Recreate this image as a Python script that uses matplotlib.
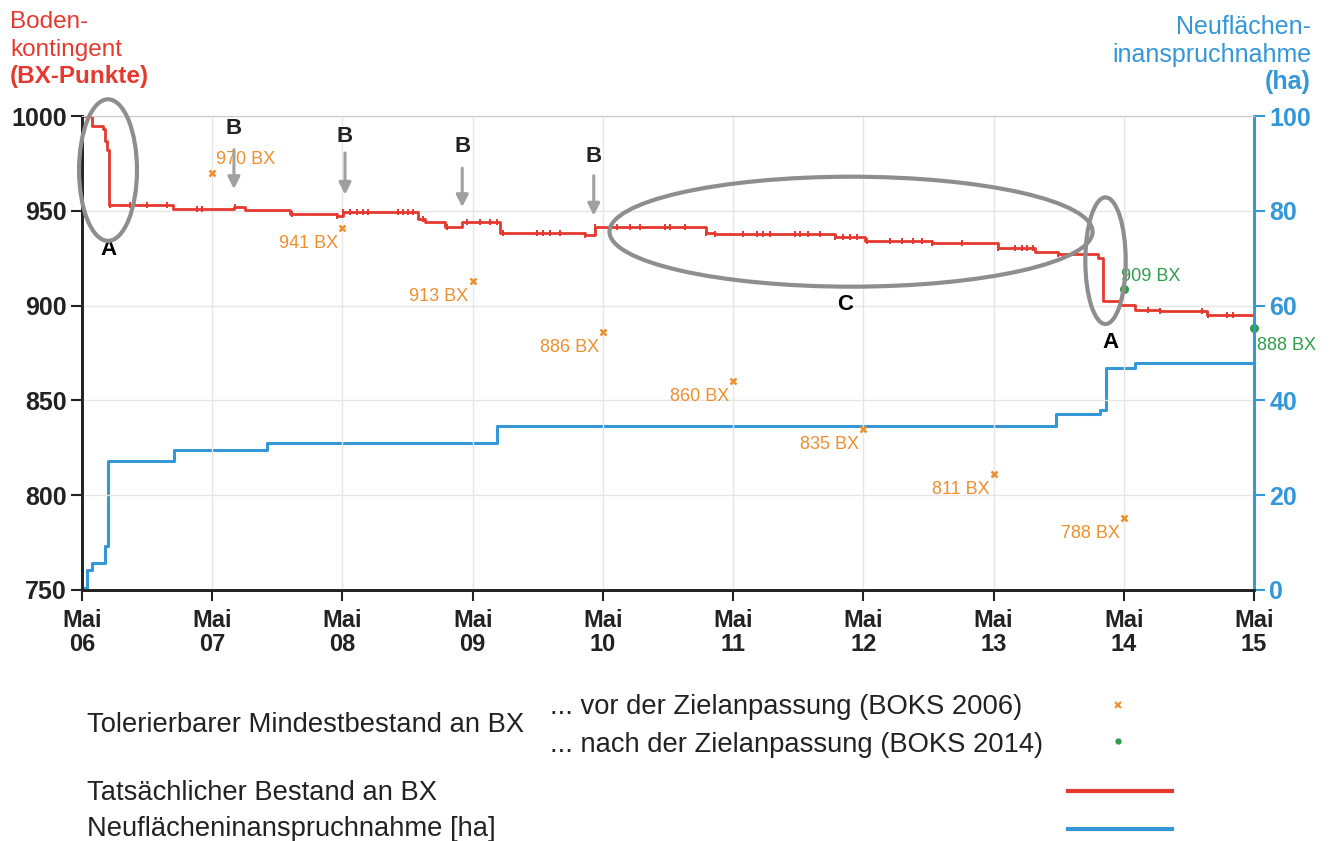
import numpy as np
import matplotlib
matplotlib.use("Agg")
import matplotlib.pyplot as plt
from matplotlib.patches import Ellipse
from matplotlib.lines import Line2D
from matplotlib import font_manager

names = {f.name for f in font_manager.fontManager.ttflist}
plt.rcParams['font.family'] = ['Liberation Sans', 'DejaVu Sans']
narrow = 'Liberation Sans Narrow' if 'Liberation Sans Narrow' in names else 'Liberation Sans'

# Zeit in Jahren ab Mai 2006
bx_t = [0.0, 0.077, 0.161, 0.177, 0.192, 0.207, 0.699, 1.167, 1.252, 1.598, 1.959, 2.005,
        2.581, 2.634, 2.788, 2.919, 3.210, 3.863, 3.940, 4.793, 4.862, 5.783, 6.014, 6.528,
        7.035, 7.320, 7.496, 7.803, 7.842, 7.972, 8.088, 8.280, 8.641, 9.0]
bx_val = [1000, 995, 993, 987, 982, 953, 951, 952, 950.5, 948.5, 947.5, 949.5,
          945.5, 944, 941.5, 944, 938.5, 937.5, 941.5, 938.5, 938, 936, 934, 933,
          930.5, 928.5, 927, 925, 902.5, 900.5, 897.5, 897, 895, 895]
# Meldungen (kleine Striche auf der roten Linie)
meldung_t = [0.215, 0.369, 0.499, 0.653, 0.883, 0.922, 1.175, 1.613, 1.959, 2.005, 2.058, 2.112,
             2.158, 2.196, 2.427, 2.465, 2.504, 2.542, 2.619, 2.803, 2.957, 3.057, 3.134, 3.187,
             3.233, 3.495, 3.541, 3.594, 3.671, 3.863, 3.940, 4.109, 4.209, 4.286, 4.478, 4.516,
             4.631, 4.793, 4.862, 5.077, 5.184, 5.230, 5.284, 5.476, 5.515, 5.576, 5.668, 5.783,
             5.845, 5.899, 5.952, 6.029, 6.206, 6.298, 6.382, 6.452, 6.528, 6.759, 7.035, 7.166,
             7.220, 7.258, 7.304, 7.496, 7.704, 7.972, 8.187, 8.280, 8.602, 8.648, 8.794, 8.840]

ha_t = [0.0, 0.04, 0.08, 0.18, 0.20, 0.71, 1.42, 3.19, 7.48, 7.82, 7.86, 8.09, 9.0]
ha_val = [0.4, 4.2, 5.7, 9.3, 27.2, 29.5, 31.0, 34.5, 37.1, 38.0, 46.8, 47.9, 47.9]

boks2006_t = [1, 2, 3, 4, 5, 6, 7, 8]
boks2006_val = [970, 941, 913, 886, 860, 835, 811, 788]
boks2014_t = [8, 9]
boks2014_val = [909, 888]

year_labels = ['Mai\n06', 'Mai\n07', 'Mai\n08', 'Mai\n09', 'Mai\n10',
               'Mai\n11', 'Mai\n12', 'Mai\n13', 'Mai\n14', 'Mai\n15']

RED = '#e5392f'
BLUE = '#3497d8'
ORANGE = '#ee8f2e'
GREEN = '#2e9e4a'
GRAY = '#8e8e8e'

fig = plt.figure(figsize=(13.33, 8.41), dpi=100)
ax = fig.add_axes([0.0615, 0.2985, 0.8792, 0.5635])
ax2 = ax.twinx()

# Flächen (blau) hinten
ax2.plot(ha_t, ha_val, drawstyle='steps-post', color=BLUE, lw=2.2)
ax2.set_ylim(0, 100)
ax2.set_yticks(range(0, 101, 20))

ax.set_zorder(ax2.get_zorder() + 1)
ax.patch.set_visible(False)

ax.plot(bx_t, bx_val, drawstyle='steps-post', color=RED, lw=2.0)
idx = np.searchsorted(bx_t, meldung_t, side='right') - 1
ax.plot(meldung_t, np.array(bx_val)[idx], ls='none', marker='|', ms=5, mew=1.4, color=RED)

ax.plot(boks2006_t, boks2006_val, ls='none', marker='x', ms=5, mew=1.8, color=ORANGE, clip_on=False)
ax.plot(boks2014_t, boks2014_val, ls='none', marker='o', ms=5.5, color=GREEN, clip_on=False)

for t, v in zip(boks2006_t, boks2006_val):
    if t == 1:
        ax.annotate(f'{v} BX', (t, v), xytext=(3, 10), textcoords='offset points',
                    ha='left', va='center', color=ORANGE, fontsize=13)
    else:
        ax.annotate(f'{v} BX', (t, v), xytext=(-3, -11), textcoords='offset points',
                    ha='right', va='center', color=ORANGE, fontsize=13)
ax.annotate(f'{boks2014_val[0]} BX', (boks2014_t[0], boks2014_val[0]), xytext=(-2, 9),
            textcoords='offset points', ha='left', va='center', color=GREEN, fontsize=13)
ax.annotate(f'{boks2014_val[1]} BX', (boks2014_t[1], boks2014_val[1]), xytext=(2, -12),
            textcoords='offset points', ha='left', va='center', color=GREEN, fontsize=13,
            annotation_clip=False)

# Markierungen A, B, C
for cx, cy, w, h in [(0.2, 971.5, 0.445, 74.7), (7.86, 923.7, 0.31, 66.8), (5.906, 939, 3.71, 58)]:
    ax.add_patch(Ellipse((cx, cy), w, h, fill=False, ec=GRAY, lw=3, clip_on=False, zorder=5))
ax.text(0.2, 929.5, 'A', ha='center', va='center', fontsize=16, fontweight='bold')
ax.text(7.895, 880.5, 'A', ha='center', va='center', fontsize=16, fontweight='bold')
ax.text(5.86, 900.5, 'C', ha='center', va='center', fontsize=16, fontweight='bold')
for t, y0, y1, yl in [(1.167, 983.7, 960, 993.7), (2.02, 982, 957, 989),
                      (2.92, 974, 950.5, 983.7), (3.93, 970, 946, 978.5)]:
    ax.annotate('', xy=(t, y1), xytext=(t, y0),
                arrowprops=dict(arrowstyle='-|>', color='#a0a0a0', lw=2.2, mutation_scale=18))
    ax.text(t, yl, 'B', ha='center', va='center', fontsize=16, fontweight='bold', color='#222222')

ax.set_xlim(0, 9)
ax.set_ylim(750, 1000)
ax.set_yticks(range(750, 1001, 50))
ax.set_xticks(range(10))
ax.set_xticklabels(year_labels, fontsize=17, fontweight='bold', family=narrow, color='#222222',
                   linespacing=1.05)
ax.tick_params(axis='y', direction='out', length=8, width=1.5, pad=3, labelsize=18, colors='#222222')
ax.tick_params(axis='x', direction='out', length=8, width=1.5, pad=6, colors='#222222')
for lab in ax.get_yticklabels():
    lab.set_fontweight('bold')
ax2.tick_params(axis='y', direction='out', length=8, width=1.5, pad=3, labelsize=18,
                colors=BLUE)
for lab in ax2.get_yticklabels():
    lab.set_fontweight('bold')

ax.grid(True, color='#e6e6e6', lw=1)
for a in (ax, ax2):
    a.spines['top'].set_color('#cccccc')
    a.spines['left'].set_color('#222222')
    a.spines['bottom'].set_color('#222222')
    a.spines['right'].set_color(BLUE)
    for s in ('left', 'bottom', 'right'):
        a.spines[s].set_linewidth(2)

W, H = 1333, 841
def fx(x): return x / W
def fy(y): return 1 - y / H

# Achsentitel
fig.text(fx(10), fy(22), 'Boden-', color=RED, fontsize=17.5, va='center')
fig.text(fx(10), fy(50), 'kontingent', color=RED, fontsize=17.5, va='center')
fig.text(fx(10), fy(76), '(BX-Punkte)', color=RED, fontsize=17.5, va='center', fontweight='bold')
fig.text(fx(1311), fy(27), 'Neuflächen-', color=BLUE, fontsize=18, va='center', ha='right')
fig.text(fx(1311), fy(55), 'inanspruchnahme', color=BLUE, fontsize=18, va='center', ha='right')
fig.text(fx(1311), fy(82), '(ha)', color=BLUE, fontsize=18, va='center', ha='right', fontweight='bold')

# Legende
lc = '#222222'
fs = 19.7
fig.text(fx(87), fy(725), 'Tolerierbarer Mindestbestand an BX', fontsize=fs, va='center', color=lc)
fig.text(fx(550), fy(707), '... vor der Zielanpassung (BOKS 2006)', fontsize=fs, va='center', color=lc)
fig.text(fx(550), fy(745), '... nach der Zielanpassung (BOKS 2014)', fontsize=fs, va='center', color=lc)
fig.text(fx(87), fy(793), 'Tatsächlicher Bestand an BX', fontsize=fs, va='center', color=lc)
fig.text(fx(87), fy(829), 'Neuflächeninanspruchnahme [ha]', fontsize=fs, va='center', color=lc)
fig.add_artist(Line2D([fx(1118)], [fy(705)], transform=fig.transFigure, marker='x', ms=4,
                      mew=1.5, color=ORANGE, ls='none'))
fig.add_artist(Line2D([fx(1118)], [fy(741)], transform=fig.transFigure, marker='o', ms=3.5,
                      color=GREEN, ls='none'))
fig.add_artist(Line2D([fx(1068), fx(1172)], [fy(791), fy(791)], transform=fig.transFigure,
                      color=RED, lw=3))
fig.add_artist(Line2D([fx(1068), fx(1172)], [fy(829), fy(829)], transform=fig.transFigure,
                      color=BLUE, lw=3))

fig.savefig('out.png', dpi=100)
